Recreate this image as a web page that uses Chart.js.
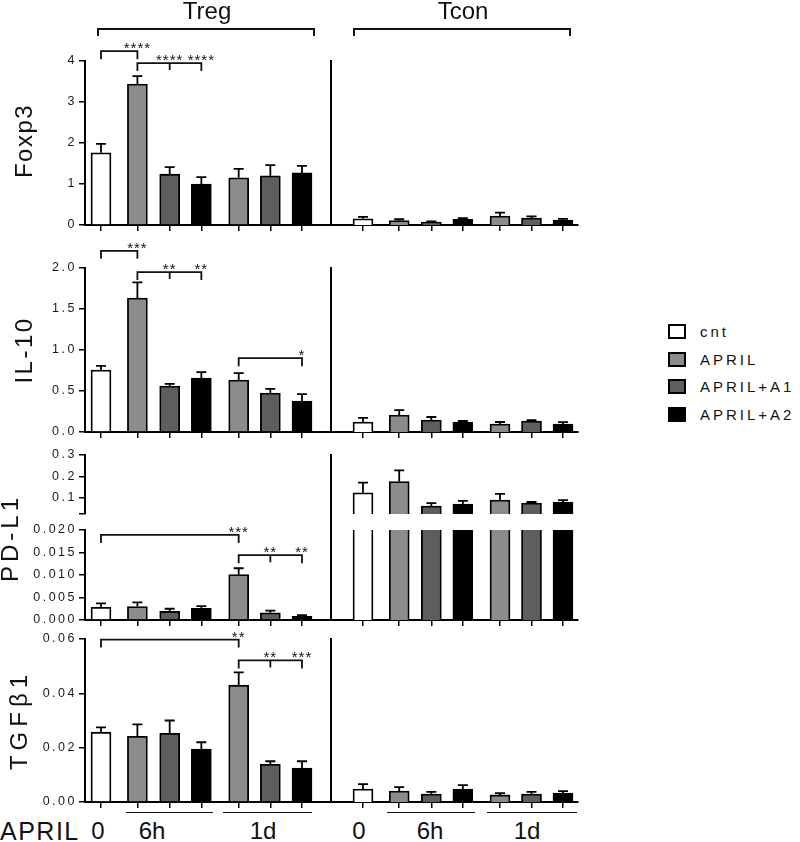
<!DOCTYPE html>
<html>
<head>
<meta charset="utf-8">
<script src="https://cdn.jsdelivr.net/npm/chart.js@4.4.1/dist/chart.umd.min.js"></script>
<style>
    body { margin: 0; background: #fff; }
    #fig { position: relative; width: 800px; height: 842px; overflow: hidden;
           font-family: 'Liberation Sans', Arial, sans-serif; color: #111; }
    #fig canvas { position: absolute; }
    .txt { position: absolute; white-space: nowrap; line-height: 1; }
    .ytitle { position: absolute; white-space: nowrap; line-height: 1; font-size: 24px;
              transform: translate(-50%, -50%) rotate(-90deg); }
    .brk { position: absolute; border: 2px solid #111; border-bottom: none; height: 8px; box-sizing: border-box; }
    .uline { position: absolute; height: 0; border-top: 1.5px solid #111; }
    .lbox { position: absolute; width: 18px; height: 15px; border: 2px solid #000; box-sizing: border-box; }
</style>
</head>
<body>
<div id="fig"></div>
<script>
// ─── DATA ────────────────────────────────────────────────────
const groups = ['cnt', 'APRIL', 'APRIL+A1', 'APRIL+A2'];
const barGroup = [0, 1, 2, 3, 1, 2, 3];            // legend entry of each bar
const barPos = [0, 1.15, 2.17, 3.17, 4.35, 5.35, 6.35];
const panels = ['Treg', 'Tcon'];
const timeLabels = ['0', '6h', '1d'];
const rowLabel = 'APRIL';

const foxp3Treg    = [1.76, 3.44, 1.24, 1.00, 1.15, 1.20, 1.27];
const foxp3TregErr = [0.22, 0.19, 0.17, 0.17, 0.22, 0.26, 0.17];
const foxp3Tcon    = [0.15, 0.11, 0.07, 0.14, 0.22, 0.17, 0.12];
const foxp3TconErr = [0.05, 0.03, 0.02, 0.03, 0.08, 0.04, 0.03];
const foxp3Ticks = [0, 1, 2, 3, 4];

const il10Treg    = [0.756, 1.634, 0.561, 0.659, 0.634, 0.476, 0.378];
const il10TregErr = [0.05, 0.19, 0.025, 0.07, 0.085, 0.05, 0.085];
const il10Tcon    = [0.122, 0.207, 0.146, 0.120, 0.098, 0.134, 0.098];
const il10TconErr = [0.05, 0.06, 0.037, 0.014, 0.024, 0.012, 0.022];
const il10Ticks = [0, 0.5, 1, 1.5, 2];

const pdl1Treg    = [0.0028, 0.0030, 0.0019, 0.0026, 0.0101, 0.0016, 0.0008];
const pdl1TregErr = [0.0009, 0.0009, 0.0006, 0.0005, 0.0014, 0.0005, 0.0003];
const pdl1Tcon    = [0.124, 0.176, 0.062, 0.071, 0.090, 0.076, 0.081];
const pdl1TconErr = [0.047, 0.052, 0.014, 0.015, 0.029, 0.005, 0.009];
const pdl1HighTicks = [0.1, 0.2, 0.3];
const pdl1LowTicks = [0, 0.005, 0.01, 0.015, 0.02];

const tgfTreg    = [0.0257, 0.0242, 0.0253, 0.0195, 0.0430, 0.0139, 0.0125];
const tgfTregErr = [0.0018, 0.0044, 0.0047, 0.0025, 0.0047, 0.0011, 0.0025];
const tgfTcon    = [0.0048, 0.0040, 0.0029, 0.0048, 0.0026, 0.0029, 0.0033];
const tgfTconErr = [0.0018, 0.0015, 0.0008, 0.0014, 0.0007, 0.0008, 0.0007];
const tgfTicks = [0, 0.02, 0.04, 0.06];

// significance brackets: bar indices, bracket level (data units), middle ticks, stars
const foxp3Sig = [
    { from: 0, to: 1, level: 4.24, mid: [], stars: [[1, '****']] },
    { from: 1, to: 3, level: 3.95, mid: [2], stars: [[2, '****'], [3, '****']] }
];
const il10Sig = [
    { from: 0, to: 1, level: 2.21, mid: [], stars: [[1, '***']] },
    { from: 1, to: 3, level: 1.95, mid: [2], stars: [[2, '**'], [3, '**']] },
    { from: 4, to: 6, level: 0.90, mid: [], stars: [[6, '*']] }
];
const pdl1Sig = [
    { from: 0, to: 4, level: 0.0189, mid: [], stars: [[4, '***']] },
    { from: 4, to: 6, level: 0.0144, mid: [5], stars: [[5, '**'], [6, '**']] }
];
const tgfSig = [
    { from: 0, to: 4, level: 0.0598, mid: [], stars: [[4, '**']] },
    { from: 4, to: 6, level: 0.0521, mid: [5], stars: [[5, '**'], [6, '***']] }
];

// ─── STYLE / LAYOUT ──────────────────────────────────────────
const groupColors = ['#ffffff', '#8c8c8c', '#5e5e5e', '#000000'];
const FONT = "'Liberation Sans', Arial, sans-serif";
const TREG = { left: 85, right: 331, barFirst: 101, barLast: 302 };
const TCON = { left: 331, right: 578, barFirst: 363, barLast: 563 };

Chart.defaults.font.family = FONT;
Chart.defaults.color = '#222';

const fig = document.getElementById('fig');

function addDiv(cls, css, text) {
    const d = document.createElement('div');
    d.className = cls;
    Object.assign(d.style, css);
    if (text !== undefined) d.textContent = text;
    fig.appendChild(d);
    return d;
}

/**
 * One bar panel (one row of Treg or Tcon, or one half of the broken PD-L1 axis).
 */
function makeChart(cfg) {
    const ML = 70, MR = 6, MT = 40, MB = cfg.showX ? 10 : 20;
    const p = cfg.panel;
    const canvas = document.createElement('canvas');
    canvas.width = p.right - p.left + ML + MR;
    canvas.height = cfg.bottom - cfg.top + MT + MB;
    canvas.style.left = (p.left - ML) + 'px';
    canvas.style.top = (cfg.top - MT) + 'px';
    fig.appendChild(canvas);

    const last = barPos.length - 1;
    const unit = (p.barLast - p.barFirst) / (barPos[last] - barPos[0]);
    const xMin = barPos[0] - (p.barFirst - p.left) / unit;
    const xMax = barPos[last] + (p.right - p.barLast) / unit;
    const showY = !!cfg.ticks;

    const extras = {
        id: 'extras',
        beforeDraw(chart) { chart.ctx.letterSpacing = '2.5px'; },
        afterDraw(chart) {
            const { ctx, chartArea: a, scales: { x, y } } = chart;
            // error bars (upper only)
            ctx.save();
            ctx.beginPath();
            ctx.rect(a.left, a.top - 2, a.right - a.left, a.bottom - a.top + 2);
            ctx.clip();
            ctx.strokeStyle = '#000';
            ctx.lineWidth = 1.8;
            cfg.values.forEach((v, i) => {
                const px = x.getPixelForValue(barPos[i]);
                const y0 = y.getPixelForValue(v);
                const y1 = y.getPixelForValue(v + cfg.errs[i]);
                ctx.beginPath();
                ctx.moveTo(px, y0); ctx.lineTo(px, y1);
                ctx.moveTo(px - 5, y1); ctx.lineTo(px + 5, y1);
                ctx.stroke();
            });
            ctx.restore();

            // axis continuing through the break
            if (cfg.axisUp) {
                ctx.save();
                ctx.strokeStyle = '#000';
                ctx.lineWidth = 2;
                ctx.beginPath();
                ctx.moveTo(a.left, a.top);
                ctx.lineTo(a.left, a.top - cfg.axisUp);
                ctx.stroke();
                ctx.restore();
            }

            // significance brackets
            (cfg.sig || []).forEach(b => {
                const yl = y.getPixelForValue(b.level);
                const xa = x.getPixelForValue(barPos[b.from]);
                const xb = x.getPixelForValue(barPos[b.to]);
                ctx.save();
                ctx.strokeStyle = '#111';
                ctx.lineWidth = 1.8;
                ctx.beginPath();
                ctx.moveTo(xa, yl + 8); ctx.lineTo(xa, yl); ctx.lineTo(xb, yl); ctx.lineTo(xb, yl + 8);
                b.mid.forEach(m => {
                    const xm = x.getPixelForValue(barPos[m]);
                    ctx.moveTo(xm, yl); ctx.lineTo(xm, yl + 7);
                });
                ctx.stroke();
                ctx.fillStyle = '#111';
                ctx.font = '15px ' + FONT;
                ctx.letterSpacing = '1px';
                ctx.textAlign = 'center';
                ctx.textBaseline = 'alphabetic';
                b.stars.forEach(([i, s]) => ctx.fillText(s, x.getPixelForValue(barPos[i]), yl + 2));
                ctx.restore();
            });
        }
    };

    new Chart(canvas, {
        type: 'bar',
        data: {
            datasets: [{
                data: barPos.map((x, i) => ({ x, y: cfg.values[i] })),
                backgroundColor: barGroup.map(g => groupColors[g]),
                borderColor: '#000',
                borderWidth: 1.8,
                barThickness: 20,
                clip: 0
            }]
        },
        options: {
            responsive: false,
            animation: false,
            devicePixelRatio: 1,
            events: [],
            layout: { padding: { top: MT, right: MR, left: 0, bottom: 0 } },
            plugins: { legend: { display: false }, tooltip: { enabled: false } },
            scales: {
                x: {
                    type: 'linear', min: xMin, max: xMax, offset: false, display: !!cfg.showX,
                    afterBuildTicks: s => { s.ticks = barPos.map(v => ({ value: v })); },
                    afterFit: s => { s.height = MB; },
                    grid: { drawOnChartArea: false, drawTicks: true, tickLength: 6, color: '#000', lineWidth: 1.5, offset: false },
                    border: { color: '#000', width: 2 },
                    ticks: { display: false, autoSkip: false }
                },
                y: {
                    type: 'linear', min: cfg.min, max: cfg.max,
                    afterBuildTicks: s => {
                        const t = showY ? (cfg.breakBelow ? [cfg.min].concat(cfg.ticks) : cfg.ticks) : [];
                        s.ticks = t.map(v => ({ value: v }));
                    },
                    afterFit: s => { s.width = ML; },
                    grid: { drawOnChartArea: false, drawTicks: showY, tickLength: 6, color: '#000', lineWidth: 1.5 },
                    border: { color: '#000', width: 2 },
                    ticks: {
                        display: showY, autoSkip: false, padding: 2, color: '#1a1a1a', font: { size: 12.5 },
                        callback: v => (cfg.breakBelow && v === cfg.min) ? '' : v.toFixed(cfg.digits)
                    }
                }
            }
        },
        plugins: [extras]
    });
}

// ─── ROWS ────────────────────────────────────────────────────
makeChart({ panel: TREG, top: 61, bottom: 225, values: foxp3Treg, errs: foxp3TregErr, min: 0, max: 4, ticks: foxp3Ticks, digits: 0, sig: foxp3Sig, showX: true });
makeChart({ panel: TCON, top: 61, bottom: 225, values: foxp3Tcon, errs: foxp3TconErr, min: 0, max: 4, showX: true });

makeChart({ panel: TREG, top: 268, bottom: 432, values: il10Treg, errs: il10TregErr, min: 0, max: 2, ticks: il10Ticks, digits: 1, sig: il10Sig, showX: true });
makeChart({ panel: TCON, top: 268, bottom: 432, values: il10Tcon, errs: il10TconErr, min: 0, max: 2, showX: true });

// PD-L1: broken axis, upper part 0.025–0.3 and lower part 0–0.02
makeChart({ panel: TREG, top: 455, bottom: 514, values: pdl1Treg, errs: pdl1TregErr, min: 0.025, max: 0.3, ticks: pdl1HighTicks, digits: 1, breakBelow: true });
makeChart({ panel: TCON, top: 455, bottom: 514, values: pdl1Tcon, errs: pdl1TconErr, min: 0.025, max: 0.3 });
makeChart({ panel: TREG, top: 530, bottom: 620, values: pdl1Treg, errs: pdl1TregErr, min: 0, max: 0.02, ticks: pdl1LowTicks, digits: 3, sig: pdl1Sig, showX: true });
makeChart({ panel: TCON, top: 530, bottom: 620, values: pdl1Tcon, errs: pdl1TconErr, min: 0, max: 0.02, showX: true, axisUp: 16 });

makeChart({ panel: TREG, top: 639, bottom: 802, values: tgfTreg, errs: tgfTregErr, min: 0, max: 0.06, ticks: tgfTicks, digits: 2, sig: tgfSig, showX: true });
makeChart({ panel: TCON, top: 639, bottom: 802, values: tgfTcon, errs: tgfTconErr, min: 0, max: 0.06, showX: true });

// ─── TEXT, HEADERS, LEGEND ───────────────────────────────────
const yTitles = [
    ['Foxp3', 24, 141, '1.5px'],
    ['IL-10', 24, 350, '2.5px'],
    ['PD-L1', 10, 538, '4px'],
    ['TGF\u03b21', 19, 720, '5px']
];
yTitles.forEach(([t, cx, cy, ls]) => addDiv('ytitle', { left: cx + 'px', top: cy + 'px', letterSpacing: ls }, t));

// panel headers with brackets
[[207, 97, 218], [463, 353, 218]].forEach(([cx, bl, bw], i) => {
    addDiv('txt', { left: (cx - 40) + 'px', width: '80px', textAlign: 'center', top: '-1px', fontSize: '24px' }, panels[i]);
    addDiv('brk', { left: bl + 'px', width: bw + 'px', top: '28px' });
});

// APRIL time row
addDiv('txt', { left: '0px', top: '819px', fontSize: '25px', letterSpacing: '1.5px' }, rowLabel);
[[98, 152, 263], [359, 430, 527]].forEach(centers => {
    centers.forEach((cx, i) => addDiv('txt', { left: (cx - 30) + 'px', width: '60px', textAlign: 'center', top: '819px', fontSize: '24px' }, timeLabels[i]));
});
[[126, 213], [223, 312], [387, 475], [487, 577]].forEach(([a, b]) =>
    addDiv('uline', { left: a + 'px', width: (b - a) + 'px', top: '812px' }));

// legend
groups.forEach((g, i) => {
    const top = 324 + i * 27.6;
    addDiv('lbox', { left: '668px', top: top + 'px', background: groupColors[i] });
    addDiv('txt', { left: '700px', top: (top) + 'px', fontSize: '15px', letterSpacing: '3px' }, g);
});
</script>
</body>
</html>
